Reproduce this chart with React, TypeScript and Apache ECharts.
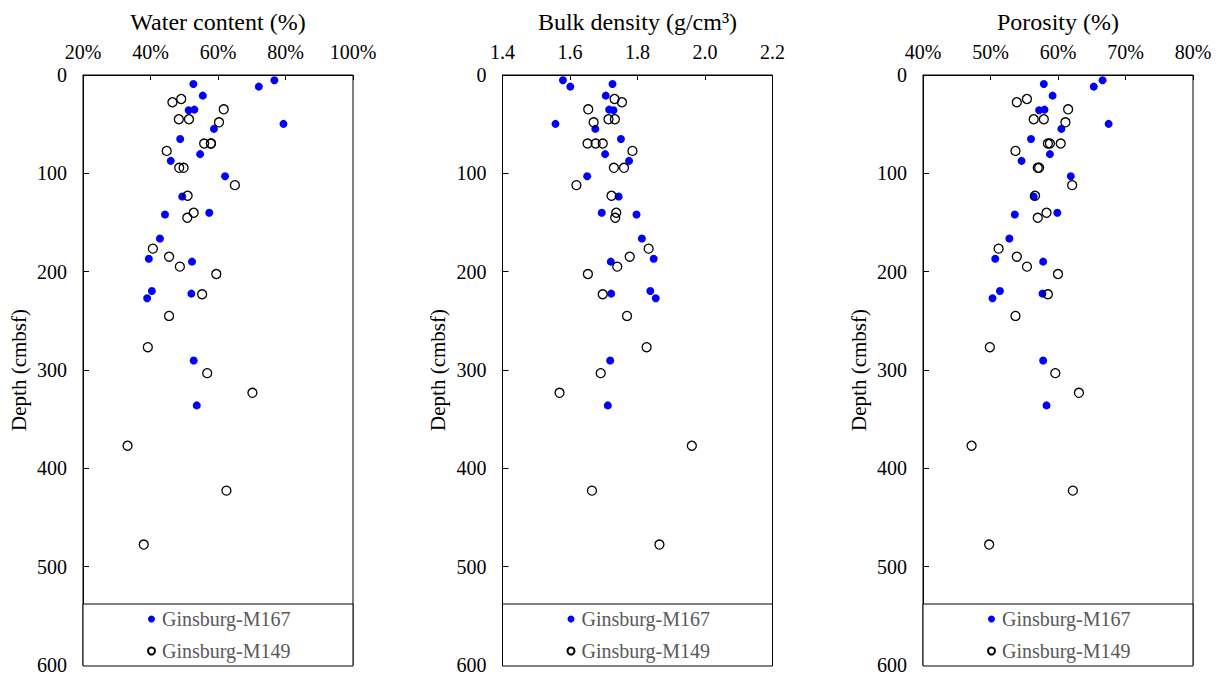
import React, { useEffect, useRef } from "react";
import * as echarts from "echarts";

const names = ["Ginsburg-M167", "Ginsburg-M149"];
const titles = ["Water content (%)", "Bulk density (g/cm³)", "Porosity (%)"];
const yTitle = "Depth (cmbsf)";

// Ginsburg-M167
const depth167 = [5.4, 9.1, 11.8, 21.0, 35.2, 35.8, 49.7, 54.8, 65.0, 80.5, 87.3, 102.9, 123.5, 140.1, 141.8, 166.2, 186.8, 189.8, 219.6, 222.3, 227.1, 290.4, 336.0];
const wc167 = [76.7, 52.7, 72.1, 55.5, 53.0, 51.3, 79.4, 58.8, 48.8, 54.7, 46.0, 62.1, 49.4, 57.4, 44.3, 42.8, 39.5, 52.3, 40.4, 52.1, 39.0, 52.8, 53.7];
const bd167 = [1.579, 1.726, 1.601, 1.706, 1.716, 1.729, 1.557, 1.675, 1.751, 1.704, 1.775, 1.651, 1.744, 1.694, 1.797, 1.813, 1.848, 1.721, 1.838, 1.722, 1.854, 1.719, 1.712];
const por167 = [66.6, 57.9, 65.3, 59.2, 58.0, 57.2, 67.5, 60.5, 56.0, 58.8, 54.6, 61.9, 56.4, 59.9, 53.6, 52.8, 50.7, 57.8, 51.4, 57.7, 50.3, 57.8, 58.3];

// Ginsburg-M149
const depth149 = [24.4, 27.7, 34.9, 45.0, 45.0, 48.1, 69.7, 69.7, 69.7, 77.2, 94.4, 94.4, 112.0, 122.8, 140.1, 145.2, 176.6, 184.8, 194.9, 202.4, 223.0, 245.0, 276.8, 303.2, 323.2, 377.0, 422.7, 477.5];
const wc149 = [49.1, 46.5, 61.7, 48.4, 51.4, 60.3, 57.9, 57.9, 55.9, 44.8, 48.5, 49.8, 65.0, 51.0, 52.8, 50.9, 40.7, 45.5, 48.7, 59.5, 55.3, 45.5, 39.2, 56.8, 70.2, 33.2, 62.5, 38.0];
const bd149 = [1.732, 1.754, 1.654, 1.733, 1.714, 1.670, 1.652, 1.676, 1.697, 1.785, 1.760, 1.730, 1.619, 1.723, 1.737, 1.734, 1.833, 1.777, 1.740, 1.653, 1.697, 1.769, 1.827, 1.691, 1.569, 1.961, 1.665, 1.865];
const por149 = [55.4, 53.9, 61.5, 56.4, 57.9, 61.1, 60.4, 58.8, 58.5, 53.7, 57.0, 57.2, 62.1, 56.6, 58.3, 57.0, 51.2, 53.9, 55.4, 60.0, 58.5, 53.7, 49.9, 59.6, 63.1, 47.2, 62.2, 49.8];

const xMins = [20, 1.4, 40];
const xMaxs = [100, 2.2, 80];
const xIntervals = [20, 0.2, 10];
const yTicks = [0, 100, 200, 300, 400, 500, 600];

const FONT = "'Liberation Serif', 'Times New Roman', serif";

export default function App() {
  const ref = useRef<HTMLDivElement>(null);
  useEffect(() => {
    if (!ref.current) return;
    const chart = echarts.init(ref.current, null, { renderer: "svg" });
    const gridLefts = [83, 502.5, 923];
    const gridWidth = 270;
    const gridTop = 75;
    const gridHeight = 591;
    const values167 = [wc167, bd167, por167];
    const values149 = [wc149, bd149, por149];
    const fmt = [
      (v: number) => v + "%",
      (v: number) => v.toFixed(1),
      (v: number) => v + "%",
    ];

    const grid = gridLefts.map((l) => ({
      left: l,
      top: gridTop,
      width: gridWidth,
      height: gridHeight,
      show: true,
      borderColor: "#000",
      borderWidth: 1,
      backgroundColor: "transparent",
    }));

    const xAxis = gridLefts.map((_, i) => ({
      type: "value",
      gridIndex: i,
      position: "top",
      min: xMins[i],
      max: xMaxs[i],
      interval: xIntervals[i],
      name: titles[i],
      nameLocation: "middle",
      nameGap: 41,
      nameTextStyle: { fontFamily: FONT, fontSize: 24, color: "#000" },
      axisLine: { show: true, lineStyle: { color: "#000", width: 1 } },
      axisTick: { show: true, inside: true, length: 5, lineStyle: { color: "#000" } },
      axisLabel: {
        show: true,
        margin: 13,
        fontFamily: FONT,
        fontSize: 20,
        color: "#000",
        formatter: fmt[i],
      },
      splitLine: { show: false },
    }));

    const yAxis = gridLefts.map((_, i) => ({
      type: "value",
      gridIndex: i,
      inverse: true,
      min: yTicks[0],
      max: yTicks[yTicks.length - 1],
      interval: yTicks[1] - yTicks[0],
      name: yTitle,
      nameLocation: "middle",
      nameGap: 54,
      nameRotate: 90,
      nameTextStyle: { fontFamily: FONT, fontSize: 21, color: "#000" },
      axisLine: { show: true, lineStyle: { color: "#000", width: 1 } },
      axisTick: { show: true, inside: true, length: 6, lineStyle: { color: "#000" } },
      axisLabel: { show: true, margin: 16, fontFamily: FONT, fontSize: 20, color: "#000" },
      splitLine: { show: false },
    }));

    const series: any[] = [];
    gridLefts.forEach((_, i) => {
      series.push({
        type: "scatter",
        name: names[0],
        xAxisIndex: i,
        yAxisIndex: i,
        symbol: "circle",
        symbolSize: 8,
        itemStyle: { color: "#0000FF", opacity: 1 },
        data: depth167.map((d, k) => [values167[i][k], d]),
      });
      series.push({
        type: "scatter",
        name: names[1],
        xAxisIndex: i,
        yAxisIndex: i,
        symbol: "circle",
        symbolSize: 9,
        itemStyle: {
          color: "rgba(255,255,255,0)",
          borderColor: "#000",
          borderWidth: 1.3,
          opacity: 1,
        },
        data: depth149.map((d, k) => [values149[i][k], d]),
      });
    });

    const legend = gridLefts.map((l) => ({
      left: l + 64,
      top: 609,
      orient: "vertical",
      itemWidth: 7,
      itemHeight: 7,
      itemGap: 12,
      icon: "circle",
      padding: 0,
      z: 20,
      selectedMode: false,
      data: names,
      textStyle: {
        fontFamily: FONT,
        fontSize: 20,
        color: "#595959",
        lineHeight: 20,
        padding: [0, 0, 0, 2],
      },
    }));

    const graphic = gridLefts.map((l) => ({
      type: "rect",
      z: 10,
      shape: { x: l, y: 604, width: gridWidth, height: gridTop + gridHeight - 604 },
      style: { fill: "#fff", stroke: "#000", lineWidth: 1 },
    }));

    chart.setOption({
      animation: false,
      backgroundColor: "#fff",
      grid,
      xAxis,
      yAxis,
      series,
      legend,
      graphic,
    } as any);
    return () => chart.dispose();
  }, []);
  return (
    <div
      ref={ref}
      style={{ position: "absolute", left: 0, top: 0, width: 1220, height: 675 }}
    />
  );
}
